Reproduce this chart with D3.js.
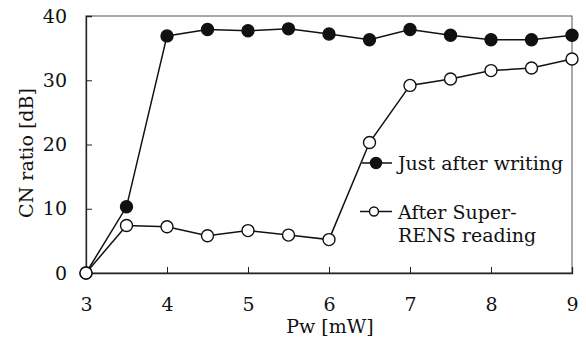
<!DOCTYPE html>
<html><head><meta charset="utf-8">
<script src="https://cdn.jsdelivr.net/npm/d3@7"></script>
<style>body{margin:0;background:#fff}</style>
</head><body><svg id="c" width="586" height="345"></svg>
<script>
const pw = [3, 3.5, 4, 4.5, 5, 5.5, 6, 6.5, 7, 7.5, 8, 8.5, 9];
const justAfterWriting = [0, 10.3, 36.9, 37.9, 37.7, 38.0, 37.2, 36.3, 37.9, 37.0, 36.3, 36.3, 37.0];
const afterSuperRENS = [0, 7.4, 7.2, 5.8, 6.6, 5.9, 5.2, 20.3, 29.2, 30.2, 31.5, 31.9, 33.3];
const xTicks = [3, 4, 5, 6, 7, 8, 9];
const yTicks = [0, 10, 20, 30, 40];
const legendLabels = [["Just after writing"], ["After Super-", "RENS reading"]];

const FONT = "'DejaVu Serif', serif";
const FS = 19;
const svg = d3.select("#c");
const L = 86, R = 572, T = 16, B = 273;
const x = d3.scaleLinear().domain([3, 9]).range([L, R]);
const y = d3.scaleLinear().domain([0, 40]).range([B, T]);
const stroke = "#111";

// frame
svg.append("rect").attr("x", L).attr("y", T).attr("width", R - L).attr("height", B - T)
  .attr("fill", "none").attr("stroke", "#555").attr("stroke-width", 1);

// axes with inward ticks
const xa = svg.append("g").attr("transform", `translate(0,${B})`)
  .call(d3.axisBottom(x).tickValues(xTicks).tickSize(-6).tickPadding(25).tickFormat(d3.format("d")));
const ya = svg.append("g").attr("transform", `translate(${L},0)`)
  .call(d3.axisLeft(y).tickValues(yTicks).tickSize(-6).tickPadding(19).tickFormat(d3.format("d")));
[xa, ya].forEach(g => {
  g.attr("font-family", null).attr("font-size", null);
  g.select(".domain").attr("stroke", "#222").attr("stroke-width", 1.3);
  g.selectAll(".tick line").attr("stroke", "#222").attr("stroke-width", 1);
  g.selectAll(".tick text").style("font-family", FONT).style("font-size", FS + "px").attr("fill", "#111");
});

svg.append("text").attr("x", 330).attr("y", 333).attr("text-anchor", "middle")
  .style("font-family", FONT).style("font-size", FS + "px").attr("fill", "#111").text("Pw [mW]");
svg.append("text").attr("transform", `translate(33,153) rotate(-90)`)
  .attr("text-anchor", "middle").style("font-family", FONT).style("font-size", FS + "px")
  .attr("fill", "#111").text("CN ratio [dB]");

const line = d3.line().x((d, i) => x(pw[i])).y(d => y(d));
function series(vals, fill) {
  svg.append("path").datum(vals).attr("d", line).attr("fill", "none")
    .attr("stroke", stroke).attr("stroke-width", 1.5);
  svg.append("g").selectAll("circle").data(vals).join("circle")
    .attr("cx", (d, i) => x(pw[i])).attr("cy", d => y(d)).attr("r", 6)
    .attr("fill", fill).attr("stroke", stroke).attr("stroke-width", 1.4);
}
series(justAfterWriting, "#111");
series(afterSuperRENS, "#fff");

// legend
const lg = [
  { y: 163, fill: "#111", r: 5.5, cx: 376, x1: 362, lines: legendLabels[0], base: 170 },
  { y: 211.5, fill: "#fff", r: 4.5, cx: 374, x1: 360, lines: legendLabels[1], base: 219 }
];
lg.forEach(e => {
  svg.append("line").attr("x1", e.x1).attr("x2", 392).attr("y1", e.y).attr("y2", e.y)
    .attr("stroke", stroke).attr("stroke-width", 1.5);
  svg.append("circle").attr("cx", e.cx).attr("cy", e.y).attr("r", e.r)
    .attr("fill", e.fill).attr("stroke", stroke).attr("stroke-width", 1.4);
  e.lines.forEach((t, i) => {
    svg.append("text").attr("x", 398).attr("y", e.base + i * 23)
      .style("font-family", FONT).style("font-size", FS + "px").attr("fill", "#111").text(t);
  });
});
</script></body></html>
